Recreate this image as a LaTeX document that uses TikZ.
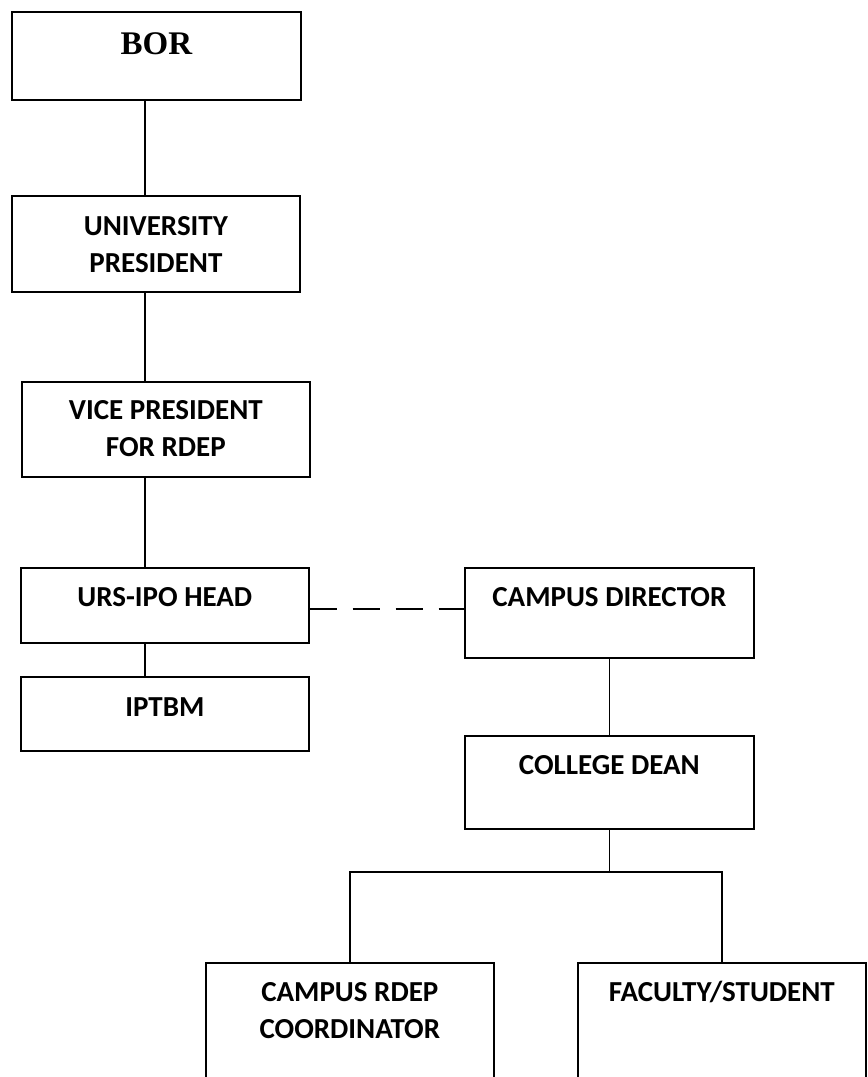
\documentclass[tikz,border=0pt]{standalone}
\usepackage{fontspec}
\setmainfont{Carlito}
\newfontfamily\borfont{Liberation Serif}
\usepackage{tikz}

\begin{document}
\begin{tikzpicture}[-,x=1pt,y=-1pt,
	box/.style={rectangle,draw,line width=1.7pt,anchor=north west,inner sep=0pt,minimum width=288pt,align=center,font=\fontsize{29}{37}\selectfont\bfseries},
	link/.style={line width=1.5pt}]
	\useasboundingbox (0,0) rectangle (868,1077);
	\coordinate (spine) at (145,0);
	\coordinate (dashrow) at (0,609);
	\coordinate (fork) at (0,872);
	\draw (11,11) node(bor) [box, minimum width=289pt, text height=42.5pt, text depth=45.5pt, font=\fontsize{33}{37}\selectfont\borfont\bfseries] {BOR}
	      (11,195) node(up) [box, text height=77pt, text depth=19pt] {UNIVERSITY\\PRESIDENT}
	      (21,381) node(vp) [box, text height=75pt, text depth=20pt] {VICE PRESIDENT\\FOR RDEP}
	      (20,567) node(urs) [box, text height=39pt, text depth=36pt] {URS-IPO HEAD}
	      (20,676) node(iptbm) [box, text height=40pt, text depth=34pt] {IPTBM}
	      (464,567) node(cd) [box, minimum width=289pt, text height=39pt, text depth=51pt] {CAMPUS DIRECTOR}
	      (464,735) node(cod) [box, minimum width=289pt, text height=39pt, text depth=54pt] {COLLEGE DEAN}
	      (205,962) node(rdep) [box, text height=76pt, text depth=113pt] {CAMPUS RDEP\\COORDINATOR}
	      (577,962) node(fac) [box, text height=39pt, text depth=150pt] {FACULTY/STUDENT};
	% left column
	\draw[link] (bor.south -| spine) -- (up.north -| spine);
	\draw[link] (up.south -| spine) -- (vp.north -| spine);
	\draw[link] (vp.south -| spine) -- (urs.north -| spine);
	\draw[link] (urs.south -| spine) -- (iptbm.north -| spine);
	\draw[link, dash pattern=on 27pt off 16pt] (urs.east |- dashrow) -- (cd.west |- dashrow);
	% right column
	\draw[link] (cd.south) -- (cod.north);
	\draw[link] (cod.south) -- (cod.south |- fork);
	\draw[link] (rdep.north) -- (rdep.north |- fork) -- (fac.north |- fork) -- (fac.north);
\end{tikzpicture}
\end{document}
